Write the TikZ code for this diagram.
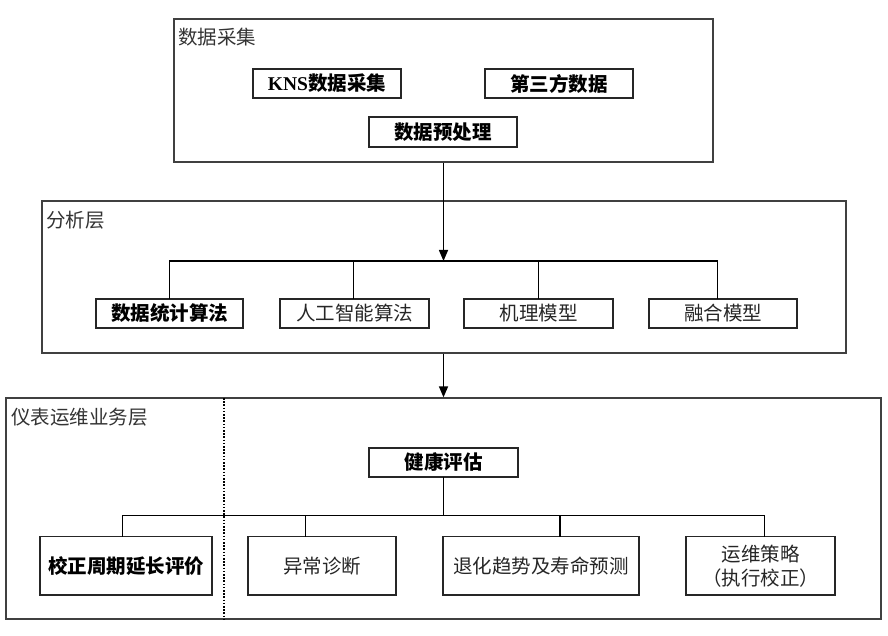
\documentclass[tikz,border=0pt]{standalone}
\usepackage{fontspec}
\setmainfont{Liberation Serif}
\newfontfamily\cjk{Noto Sans CJK SC}
\newfontfamily\lat{Liberation Serif}
\usetikzlibrary{arrows.meta}
\begin{document}
\begin{tikzpicture}[x=1pt,y=-1pt,
  frame/.style={draw=black!75, line width=1.3pt, inner sep=0pt},
  card/.style={draw=black!85, line width=1.2pt, inner sep=0pt, align=center,
    font=\cjk\fontsize{19.5}{24}\selectfont, text=black!85},
  boldcard/.style={card, font=\cjk\bfseries\fontsize{19.5}{24}\selectfont, text=black},
  title/.style={anchor=west, inner sep=0pt, font=\cjk\fontsize{19.5}{24}\selectfont, text=black!80},
  wire/.style={line width=1.5pt, line cap=rect},
  arrowwire/.style={line width=1.5pt, -{Triangle[length=11pt,width=9pt]}},
  dotline/.style={line width=1.2pt, dash pattern=on 1.6pt off 1.6pt}
]
\useasboundingbox (0,0) rectangle (888,636);

% ---------- data acquisition layer ----------
\node[frame, minimum width=539pt, minimum height=143pt] (daq) at (443.5,90.5) {};
\node[title] (daqT) at (178,37) {数据采集};
\node[boldcard, minimum width=148pt, minimum height=29pt] (kns) at (327,83.5) {{\lat\bfseries KNS}数据采集};
\node[boldcard, minimum width=148pt, minimum height=29pt] (third) at (559,83.5) {第三方数据};
\node[boldcard, minimum width=148pt, minimum height=30pt] (pre) at (443,132) {数据预处理};

% ---------- analysis layer ----------
\node[frame, minimum width=804pt, minimum height=152pt] (ana) at (444,277) {};
\node[title] (anaT) at (46,220) {分析层};
\node[boldcard, minimum width=147pt, minimum height=29pt] (s1) at (169.5,313.5) {数据统计算法};
\node[card, minimum width=149pt, minimum height=29pt] (s2) at (354.5,313.5) {人工智能算法};
\node[card, minimum width=149pt, minimum height=29pt] (s3) at (538.5,313.5) {机理模型};
\node[card, minimum width=148pt, minimum height=29pt] (s4) at (723,313.5) {融合模型};

\coordinate (ajoin) at (443.5,261);
\coordinate (a1) at (169.5,261);
\coordinate (a2) at (353.5,261);
\coordinate (a3) at (538.5,261);
\coordinate (a4) at (717.5,261);
\draw[wire] (a1) -- (a4);
\draw[wire] (a1) -- (a1 |- s1.north);
\draw[wire] (a2) -- (a2 |- s2.north);
\draw[wire] (a3) -- (a3 |- s3.north);
\draw[wire] (a4) -- (a4 |- s4.north);
\draw[arrowwire] (daq.south -| ajoin) -- (ajoin);

% ---------- operations layer ----------
\node[frame, minimum width=875pt, minimum height=221pt] (ops) at (443.5,508.5) {};
\node[title] (opsT) at (11,417) {仪表运维业务层};
\draw[arrowwire] (ana.south -| ajoin) -- (ops.north -| ajoin);

\coordinate (d1) at (224,398);
\coordinate (d2) at (224,619);
\draw[dotline] (d1) -- (d2);

\node[boldcard, minimum width=149pt, minimum height=29pt] (health) at (443.5,462.5) {健康评估};
\node[boldcard, minimum width=172pt, minimum height=58.5pt] (c1) at (126,565.75) {校正周期延长评价};
\node[card, minimum width=148pt, minimum height=58.5pt] (c2) at (322,565.75) {异常诊断};
\node[card, minimum width=196pt, minimum height=58.5pt] (c3) at (541,565.75) {退化趋势及寿命预测};
\node[card, minimum width=149pt, minimum height=58.5pt] (c4) at (760.5,565.75) {运维策略\\（执行校正）};

\coordinate (hj) at (443.5,515.7);
\coordinate (o1) at (122.7,515.7);
\coordinate (o2) at (305.7,515.7);
\coordinate (o3) at (560,515.7);
\coordinate (o4) at (764.7,515.7);
\draw[wire] (health.south) -- (hj);
\draw[wire] (o1) -- (o4);
\draw[wire] (o1) -- (o1 |- c1.north);
\draw[wire] (o2) -- (o2 |- c2.north);
\draw[wire] (o3) -- (o3 |- c3.north);
\draw[wire] (o4) -- (o4 |- c4.north);
\end{tikzpicture}
\end{document}
